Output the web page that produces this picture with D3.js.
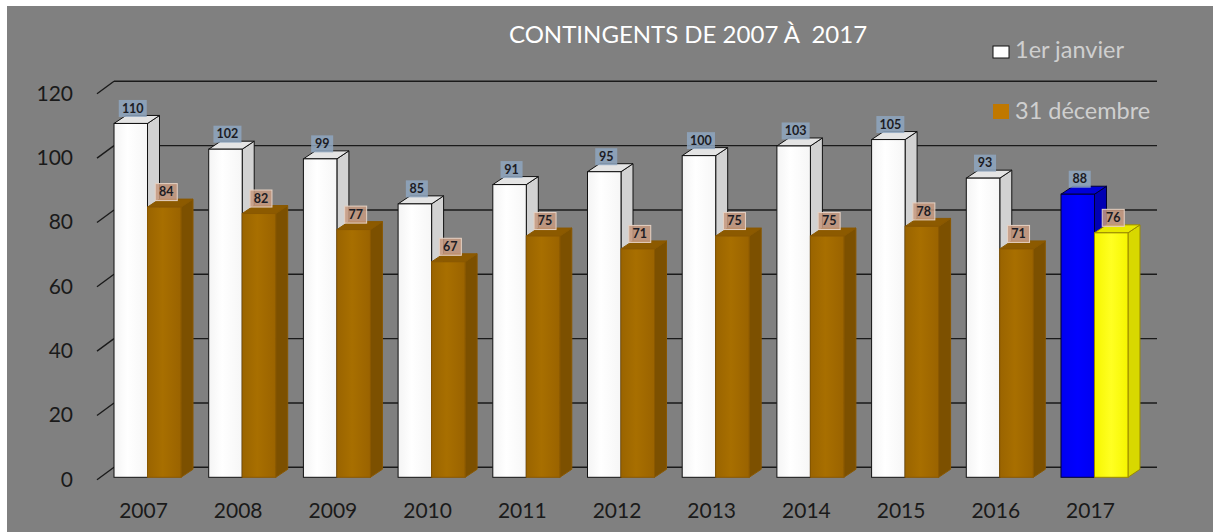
<!DOCTYPE html>
<html>
<head>
<meta charset="utf-8">
<script src="https://cdn.jsdelivr.net/npm/d3@7"></script>
<style>
  html, body { margin: 0; padding: 0; background: #ffffff; }
  svg { display: block; }
  text { font-family: Lato, "Open Sans", sans-serif; }
</style>
</head>
<body>
<script>
// ---------- data ----------
const years = ["2007","2008","2009","2010","2011","2012","2013","2014","2015","2016","2017"];
const janvier = [110,102,99,85,91,95,100,103,105,93,88];
const decembre = [84,82,77,67,75,71,75,75,78,71,76];
const seriesNames = ["1er janvier","31 décembre"];
const yTicks = [0,20,40,60,80,100,120];
const title = "CONTINGENTS DE 2007 À  2017";

// ---------- layout ----------
const W = 1213, H = 532;
const svg = d3.select("body").append("svg").attr("width", W).attr("height", H);

svg.append("rect").attr("x", 7).attr("y", 6).attr("width", W - 7).attr("height", H - 6).attr("fill", "#808080");

const y = d3.scaleLinear().domain([0, 120]).range([477.3, 91.3]);
const x = d3.scaleBand().domain(years).range([85.6, 1156.4]).paddingInner(0.2925).paddingOuter(0.3);
const xs = d3.scaleBand().domain([0, 1]).range([0, x.bandwidth()]);

// wall depth (gridlines) and bar depth
const gdx = 17, gdy = -10;
const bdx = 12, bdy = -8;
const backLeft = 114, backRight = 1157;

// gridlines on back plane
const grid = svg.append("g");
yTicks.forEach(v => {
  const yf = y(v);
  grid.append("line").attr("x1", backLeft).attr("x2", backRight)
    .attr("y1", yf + gdy).attr("y2", yf + gdy)
    .attr("stroke", "#1a1a1a").attr("stroke-width", 1.4);
  grid.append("line").attr("x1", 97).attr("y1", yf + 2.5)
    .attr("x2", backLeft).attr("y2", yf + gdy)
    .attr("stroke", "#1a1a1a").attr("stroke-width", 1.4);
  grid.append("text").attr("x", 73).attr("y", yf + 4).attr("text-anchor", "end")
    .attr("dominant-baseline", "middle")
    .attr("font-size", 21).attr("fill", "#1a1a1a").text(v);
});

// gradients
const defs = svg.append("defs");
function hGrad(id, stops) {
  const g = defs.append("linearGradient").attr("id", id).attr("x1", "0%").attr("x2", "100%").attr("y1", "0%").attr("y2", "0%");
  stops.forEach(([o, c]) => g.append("stop").attr("offset", o).attr("stop-color", c));
}
hGrad("gWhite", [["0%", "#f4f4f4"], ["40%", "#ffffff"], ["100%", "#f6f6f6"]]);
hGrad("gBrown", [["0%", "#9a6400"], ["45%", "#a86f00"], ["100%", "#9a6300"]]);
hGrad("gBlue", [["0%", "#0000f0"], ["50%", "#0000ff"], ["100%", "#0000f0"]]);
hGrad("gYellow", [["0%", "#f6f600"], ["50%", "#ffff22"], ["100%", "#f6f600"]]);

const styles = [
  { front: "url(#gWhite)", top: "#e4e4e4", side: "#d2d2d2", stroke: "#111111", lbl: "#8ea6c0", lblStroke: "none" },
  { front: "url(#gBrown)", top: "#8c5a00", side: "#7c5000", stroke: "#8a5800", lbl: "#c89a80", lblStroke: "#e6d2c4" }
];
const highlight = [
  { front: "url(#gBlue)", top: "#0000d8", side: "#0000b4", stroke: "#000033", lbl: "#8ea6c0", lblStroke: "none" },
  { front: "url(#gYellow)", top: "#e8e800", side: "#d8d800", stroke: "#9a8a00", lbl: "#c89a80", lblStroke: "#e6d2c4" }
];

const series = [janvier, decembre];
const bars = svg.append("g");
const labels = svg.append("g");

years.forEach((yr, i) => {
  series.forEach((vals, s) => {
    const v = vals[i];
    const st = (i === years.length - 1) ? highlight[s] : styles[s];
    const x0 = x(yr) + xs(s), w = xs.bandwidth();
    const yt = y(v), yb = y(0);
    const g = bars.append("g");
    // side
    g.append("path").attr("d", `M${x0 + w},${yb} L${x0 + w + bdx},${yb + bdy} L${x0 + w + bdx},${yt + bdy} L${x0 + w},${yt} Z`)
      .attr("fill", st.side).attr("stroke", st.stroke).attr("stroke-width", 1).attr("stroke-linejoin", "round");
    // top
    g.append("path").attr("d", `M${x0},${yt} L${x0 + bdx},${yt + bdy} L${x0 + w + bdx},${yt + bdy} L${x0 + w},${yt} Z`)
      .attr("fill", st.top).attr("stroke", st.stroke).attr("stroke-width", 1).attr("stroke-linejoin", "round");
    // front
    g.append("rect").attr("x", x0).attr("y", yt).attr("width", w).attr("height", yb - yt)
      .attr("fill", st.front).attr("stroke", st.stroke).attr("stroke-width", 1);

    // data label
    const txt = String(v);
    const bw = txt.length > 2 ? 28 : 22, bh = 17;
    const cx = x0 + w / 2 + 2, cy = yt + bdy - 7;
    const lg = labels.append("g");
    lg.append("rect").attr("x", cx - bw / 2).attr("y", cy - bh / 2).attr("width", bw).attr("height", bh)
      .attr("fill", st.lbl).attr("fill-opacity", 0.85)
      .attr("stroke", st.lblStroke).attr("stroke-width", 1);
    lg.append("text").attr("x", cx).attr("y", cy + 1).attr("text-anchor", "middle")
      .attr("dominant-baseline", "middle").attr("font-size", 12.5).attr("font-weight", "bold")
      .attr("fill", "#1c1c24").text(txt);
  });
});

// category labels
years.forEach(yr => {
  svg.append("text").attr("x", x(yr) + x.bandwidth() / 2 - 4).attr("y", 518)
    .attr("text-anchor", "middle").attr("font-size", 21).attr("fill", "#1a1a1a").text(yr);
});

// title
svg.append("text").attr("x", 688).attr("y", 43).attr("text-anchor", "middle")
  .attr("font-size", 24).attr("fill", "#ffffff").style("white-space", "pre").text(title);

// legend
const legendColors = ["#ffffff", "#c07800"];
const legendBox = [[46, 12], [104, 15]];
const legendBase = [57.5, 119];
seriesNames.forEach((n, k) => {
  svg.append("rect").attr("x", 993).attr("y", legendBox[k][0]).attr("width", 16).attr("height", legendBox[k][1])
    .attr("fill", legendColors[k]).attr("stroke", k === 0 ? "#111" : "none").attr("stroke-width", 1);
  svg.append("text").attr("x", 1015).attr("y", legendBase[k]).attr("font-size", 23.5)
    .attr("fill", "#cfcfcf").text(n);
});
</script>
</body>
</html>
